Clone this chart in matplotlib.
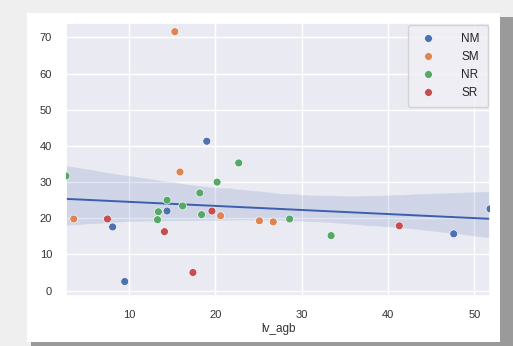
import numpy as np
import pandas as pd
import matplotlib
matplotlib.use('Agg')
import matplotlib.pyplot as plt
from matplotlib.patches import Rectangle
import seaborn as sns

sns.set_theme(style='darkgrid')
plt.rcParams['font.family'] = ['Liberation Sans', 'DejaVu Sans']

# values
nm_x = [19.0, 14.4, 8.1, 9.5, 47.6, 51.8]
nm_y = [41.3, 22.0, 17.6, 2.5, 15.7, 22.6]
sm_x = [15.3, 15.9, 20.6, 3.6, 25.1, 26.7]
sm_y = [71.6, 32.8, 20.7, 19.8, 19.3, 19.0]
nr_x = [22.7, 2.7, 20.2, 18.2, 14.4, 16.2, 13.4, 13.3, 18.4, 28.6, 33.4]
nr_y = [35.3, 31.7, 30.0, 27.0, 25.0, 23.4, 21.8, 19.6, 21.0, 19.8, 15.2]
sr_x = [19.6, 7.5, 14.1, 17.4, 41.3]
sr_y = [22.0, 19.8, 16.3, 5.0, 17.9]

groups = ['NM', 'SM', 'NR', 'SR']
xs = [nm_x, sm_x, nr_x, sr_x]
ys = [nm_y, sm_y, nr_y, sr_y]

df = pd.concat([pd.DataFrame({'lv_agb': x, 'val': y, 'grp': g})
                for g, x, y in zip(groups, xs, ys)], ignore_index=True)

fig = plt.figure(figsize=(5.13, 3.46), dpi=100)
fig.patch.set_facecolor('#efefef')
# screenshot card with shadow
fig.patches.append(Rectangle((0.06, 0.0), 0.94, 0.95, transform=fig.transFigure,
                             facecolor='#9a9a9a', edgecolor='none', zorder=-3))
fig.patches.append(Rectangle((27/513, 1-342/346), 473/513, 329/346, transform=fig.transFigure,
                             facecolor='white', edgecolor='none', zorder=-2))

ax = fig.add_axes([66/513, 1-296/346, 424/513, 273/346])
ax.set_facecolor('#eaeaf2')

sns.regplot(data=df, x='lv_agb', y='val', scatter=False, ax=ax, truncate=True,
            color='#3b5fae', line_kws={'lw': 1.4}, seed=3)
sns.scatterplot(data=df, x='lv_agb', y='val', hue='grp', hue_order=groups,
                palette=['#4c72b0', '#dd8452', '#55a868', '#c44e52'],
                s=32, ax=ax, zorder=3)

ax.set_xlim(min(df.lv_agb), max(df.lv_agb))
ax.set_ylim(-1.5, 74)
ax.set_xticks([10, 20, 30, 40, 50])
ax.set_yticks([0, 10, 20, 30, 40, 50, 60, 70])
ax.tick_params(labelsize=8, colors='#333333', pad=4)
ax.set_xlabel('lv_agb', fontsize=8.5, color='#333333', labelpad=2)
ax.set_ylabel('')

leg = ax.legend(loc='upper right', fontsize=8.5, title=None, frameon=True,
                handletextpad=1.8, borderpad=0.7, labelspacing=0.5,
                borderaxespad=0.15)
leg.get_frame().set_facecolor('#f0f0f5')

fig.savefig('out.png', dpi=100, facecolor=fig.get_facecolor())
